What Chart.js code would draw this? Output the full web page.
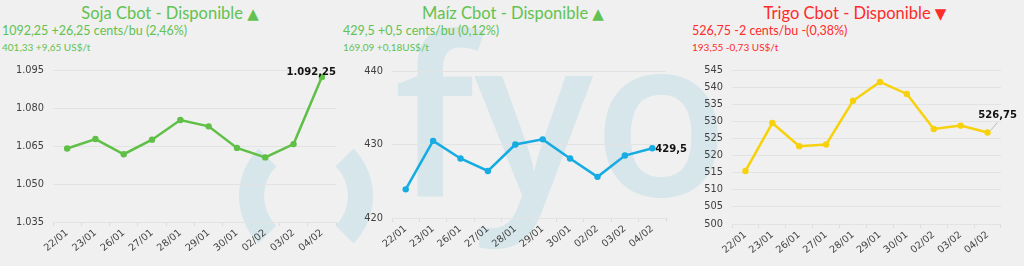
<!DOCTYPE html>
<html>
<head>
<meta charset="utf-8">
<script src="https://cdn.jsdelivr.net/npm/chart.js@4"></script>
<style>
  html, body { margin: 0; padding: 0; }
  body { width: 1024px; height: 266px; background: #f0f0f0; position: relative; overflow: hidden; font-family: "Lato", sans-serif; }
  .wm { position: absolute; color: #d6e6ea; font-family: "Open Sans", sans-serif; font-weight: 600; }
  .ring { position: absolute; left: 239px; top: 129px; width: 134px; height: 134px; box-sizing: border-box;
          border: 25px solid transparent; border-left-color: #d6e6ea; border-right-color: #d6e6ea; border-radius: 50%; }
  .title { position: absolute; top: 1px; font-size: 16.5px; line-height: 24px; white-space: nowrap; transform: translateX(-50%); }
  .title span { font-family: "DejaVu Sans", sans-serif; font-size: 15px; }
  .l2 { position: absolute; top: 23px; font-size: 12.5px; line-height: 16px; white-space: nowrap; }
  .l3 { position: absolute; top: 40px; font-size: 10px; line-height: 14px; white-space: nowrap; }
  .up { color: #62c250; }
  .down { color: #ff2a2a; }
  canvas { position: absolute; top: 55px; }
</style>
</head>
<body>
<div class="ring"></div>
<div class="wm" style="left:394px; top:-40px; font-size:222px; line-height:300px;">fyo</div>

<div class="title up" style="left:170px;">Soja Cbot - Disponible <span>▲</span></div>
<div class="l2 up" style="left:2px;">1092,25 +26,25 cents/bu (2,46%)</div>
<div class="l3 up" style="left:2px;">401,33 +9,65 US$/t</div>

<div class="title up" style="left:513px;">Maíz Cbot - Disponible <span>▲</span></div>
<div class="l2 up" style="left:343px;">429,5 +0,5 cents/bu (0,12%)</div>
<div class="l3 up" style="left:343px;">169,09 +0,18US$/t</div>

<div class="title down" style="left:855px;">Trigo Cbot - Disponible <span>▼</span></div>
<div class="l2 down" style="left:692px;">526,75 -2 cents/bu -(0,38%)</div>
<div class="l3 down" style="left:692px;">193,55 -0,73 US$/t</div>

<canvas id="soja" width="340" height="211" style="left:0;"></canvas>
<canvas id="trigo" width="344" height="211" style="left:680px;"></canvas>
<canvas id="maiz" width="356" height="211" style="left:340px;"></canvas>

<script>
// datos
const fechas = ["22/01", "23/01", "26/01", "27/01", "28/01", "29/01", "30/01", "02/02", "03/02", "04/02"];
const soja = [1064, 1067.75, 1061.75, 1067.5, 1075.25, 1072.75, 1064.25, 1060.5, 1065.75, 1092.25];
const maiz = [423.9, 430.5, 428.1, 426.4, 430, 430.7, 428.1, 425.6, 428.5, 429.5];
const trigo = [515.5, 529.5, 522.75, 523.25, 536, 541.5, 538, 527.75, 528.75, 526.75];

// formato es: 1.092,25
function fmt(v) {
  const parts = String(v).split(".");
  const ent = parts[0].replace(/\B(?=(\d{3})+(?!\d))/g, ".");
  return parts[1] ? ent + "," + parts[1] : ent;
}

// etiqueta del ultimo punto
const ultimoValor = {
  id: "ultimoValor",
  afterDatasetsDraw(chart, args, opts) {
    const meta = chart.getDatasetMeta(0);
    const pt = meta.data[meta.data.length - 1];
    const ds = chart.data.datasets[0].data;
    const txt = fmt(ds[ds.length - 1]);
    const ctx = chart.ctx;
    ctx.save();
    ctx.font = "bold 10px 'DejaVu Sans'";
    ctx.fillStyle = "#111";
    if (opts.pos === "right") {
      ctx.textAlign = "left";
      ctx.textBaseline = "middle";
      ctx.fillText(txt, pt.x + 3, pt.y + 1);
    } else if (opts.pos === "leader") {
      ctx.strokeStyle = "#bbb";
      ctx.lineWidth = 1;
      ctx.beginPath();
      ctx.moveTo(pt.x + 3, pt.y - 2);
      ctx.lineTo(pt.x + 10, pt.y - 10);
      ctx.stroke();
      ctx.textAlign = "center";
      ctx.textBaseline = "alphabetic";
      ctx.fillText(txt, pt.x + 10, pt.y - 14);
    } else {
      ctx.textAlign = "right";
      ctx.textBaseline = "alphabetic";
      ctx.fillText(txt, pt.x + 14, pt.y - 2);
    }
    ctx.restore();
  }
};

function grafico(id, valores, color, yMin, yMax, paso, yAncho, xAlto, derecha, arriba, pos) {
  return new Chart(document.getElementById(id), {
    type: "line",
    data: {
      labels: fechas,
      datasets: [{
        data: valores,
        borderColor: color,
        backgroundColor: color,
        borderWidth: 2.5,
        pointRadius: 3.2,
        pointBorderWidth: 0,
        tension: 0,
      }],
    },
    plugins: [ultimoValor],
    options: {
      responsive: false,
      animation: false,
      layout: { padding: { top: arriba, right: derecha, left: 0, bottom: 0 } },
      plugins: {
        legend: { display: false },
        tooltip: { enabled: false },
        ultimoValor: { pos: pos },
      },
      scales: {
        x: {
          offset: true,
          grid: { offset: true, drawOnChartArea: false, tickLength: 4, color: "#dcdcdc" },
          border: { display: false },
          ticks: { minRotation: 40, maxRotation: 40, padding: 1, color: "#404040", font: { family: "DejaVu Sans", size: 9.8 } },
          afterFit(s) { s.height = xAlto; },
        },
        y: {
          min: yMin,
          max: yMax,
          grid: { color: "#e3e3e3", drawTicks: false },
          border: { display: false },
          ticks: { stepSize: paso, padding: 9, color: "#404040", font: { family: "DejaVu Sans", size: 9.8 }, callback: (v) => fmt(v) },
          afterFit(s) { s.width = yAncho; },
        },
      },
    },
  });
}

grafico("soja", soja, "#5fbf46", 1035, 1095, 15, 53, 44, 3, 15, "left");
grafico("maiz", maiz, "#16ace2", 420, 440, 10, 52, 48, 30, 16, "right");
grafico("trigo", trigo, "#f7d10c", 500, 545, 5, 52, 42, 23, 15, "leader");
</script>
</body>
</html>
